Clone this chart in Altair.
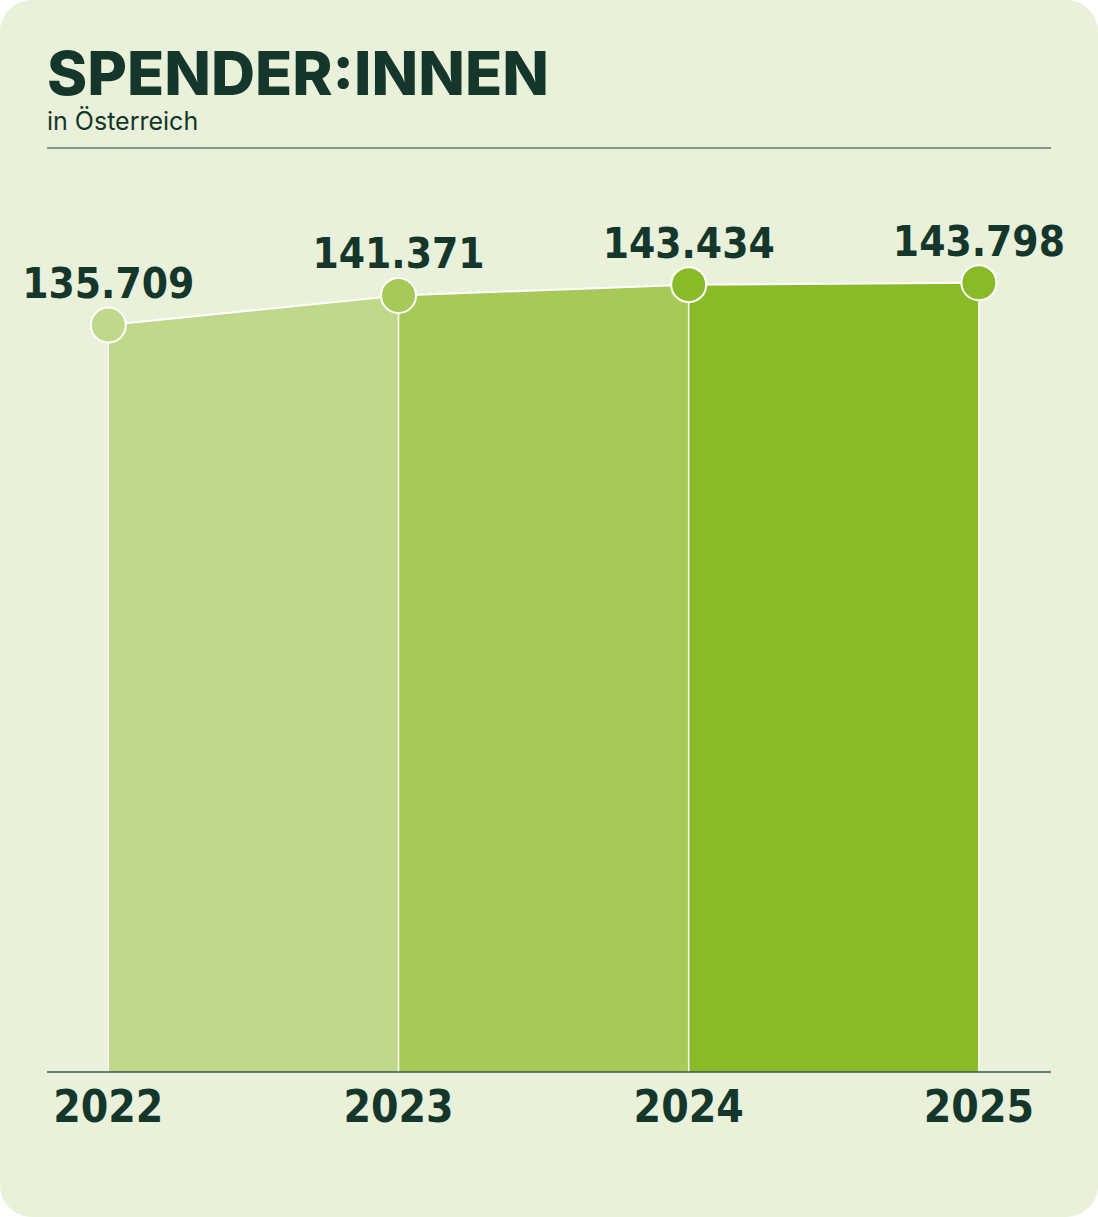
import altair as alt
import pandas as pd

years = [2022, 2023, 2024, 2025]
values = [135709, 141371, 143434, 143798]
value_labels = ["135.709", "141.371", "143.434", "143.798"]
segment_colors = ["#bfd889", "#a6c957", "#88bb27"]
point_colors = ["#bfd889", "#a6c957", "#88bb27", "#88bb27"]
title_text = "SPENDER:INNEN"
subtitle_text = "in Österreich"

DARK = "#15362a"
BG = "#e9f1da"
COND = "'Liberation Sans Narrow', 'DejaVu Sans Condensed', 'Roboto Condensed', 'Arial Narrow', sans-serif"

W, H = 1004, 924

pts = pd.DataFrame({"year": years, "value": values, "label": value_labels, "pcolor": point_colors})
seg_rows = []
for i in range(len(years) - 1):
    for j in (i, i + 1):
        seg_rows.append({"year": years[j], "value": values[j], "seg": i})
segs = pd.DataFrame(seg_rows)

yscale = alt.Scale(domain=[-7133, 169574], nice=False, zero=False)
xs = alt.X("year:Q", scale=alt.Scale(domain=[2021.7888, 2025.2485], nice=False, zero=False), axis=None)
ys = alt.Y("value:Q", scale=yscale, axis=None)

one = pd.DataFrame({"a": [0]})

bg = alt.Chart(one).mark_rect(fill=BG, cornerRadius=32).encode(
    x=alt.value(-47), x2=alt.value(1051), y=alt.value(-148), y2=alt.value(1069)
)

title = alt.Chart(one).mark_text(
    text=title_text, font="Inter", fontWeight=800, fontSize=61, color=DARK,
    align="left", baseline="alphabetic"
).encode(x=alt.value(0), y=alt.value(-53))

subtitle = alt.Chart(one).mark_text(
    text=subtitle_text, font="Inter", fontWeight=400, fontSize=25, color=DARK,
    align="left", baseline="alphabetic"
).encode(x=alt.value(0), y=alt.value(-18))

top_rule = alt.Chart(one).mark_rule(color="#1f3f30", strokeWidth=1.2).encode(
    x=alt.value(0), x2=alt.value(W), y=alt.value(0)
)
base_rule = alt.Chart(one).mark_rule(color="#3d5a4a", strokeWidth=1.5).encode(
    x=alt.value(0), x2=alt.value(W), y=alt.value(H)
)

areas = alt.Chart(segs).mark_area(opacity=1).encode(
    x=xs, y=alt.Y("value:Q", scale=yscale, axis=None, stack=None),
    y2=alt.value(H),
    color=alt.Color("seg:N", scale=alt.Scale(domain=[0, 1, 2], range=segment_colors), legend=None),
)

vlines = alt.Chart(pts).mark_rule(color="white", strokeWidth=1.5).encode(
    x=xs, y=ys, y2=alt.value(H)
)

topline = alt.Chart(pts).mark_line(color="white", strokeWidth=2).encode(x=xs, y=ys)

dots = alt.Chart(pts).mark_point(filled=True, opacity=1, size=1225, stroke="white", strokeWidth=2, shape="circle").encode(
    x=xs, y=ys, fill=alt.Fill("pcolor:N", scale=None)
)

vlabels = alt.Chart(pts).mark_text(
    font=COND, fontWeight="bold", fontSize=42, color=DARK, align="center", baseline="alphabetic", dy=-27
).encode(x=xs, y=ys, text="label:N")

ylabels = alt.Chart(pts).mark_text(
    font=COND, fontWeight="bold", fontSize=44, color=DARK, align="center", baseline="alphabetic"
).encode(x=xs, y=alt.value(974), text="year:N")

chart = alt.layer(
    bg, title, subtitle, top_rule, areas, vlines, topline, base_rule, dots, vlabels, ylabels
).properties(
    width=W, height=H,
    autosize=alt.AutoSizeParams(type="none"),
    padding={"left": 47, "top": 148, "right": 47, "bottom": 145},
    background="white",
).configure_view(stroke=None, clip=False)

chart.save("out.html", embed_options={"renderer": "svg", "actions": False})
